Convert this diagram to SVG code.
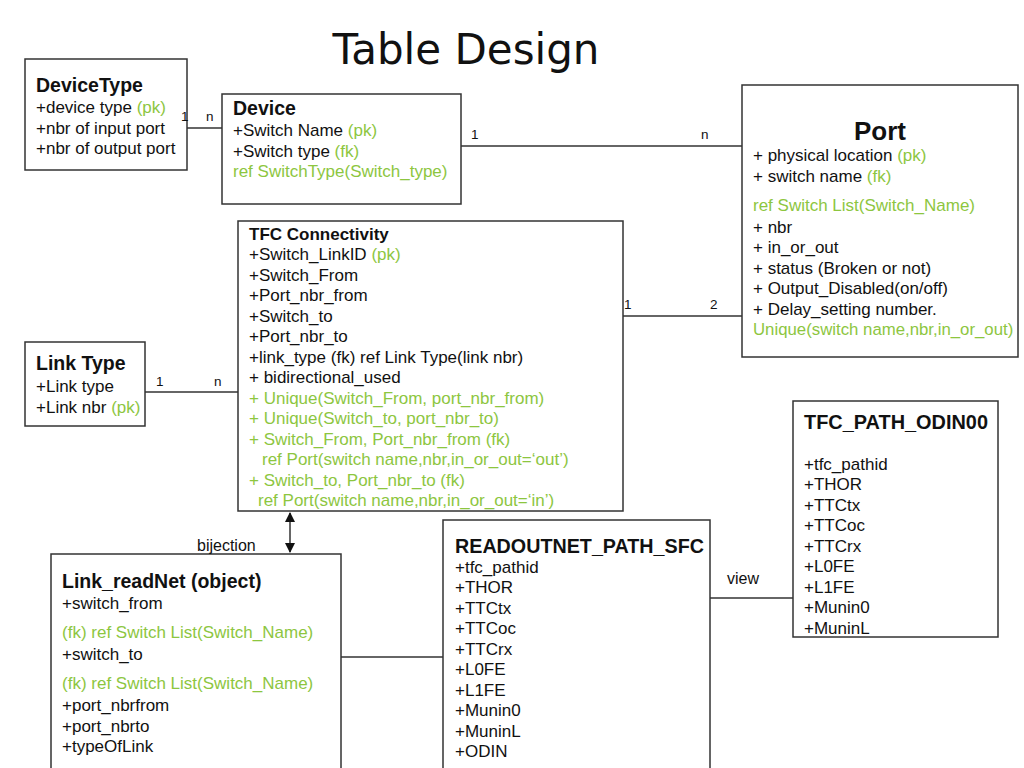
<svg xmlns="http://www.w3.org/2000/svg" width="1024" height="768" viewBox="0 0 1024 768">
<defs>
<style>
.box{fill:#fff;stroke:#333;stroke-width:1.5}
.t{font-family:"Liberation Sans",Arial,sans-serif;font-size:17px;fill:#111}
.h{font-family:"Liberation Sans",Arial,sans-serif;font-size:19.5px;font-weight:bold;fill:#111}
.hs{font-family:"Liberation Sans",Arial,sans-serif;font-size:17px;font-weight:bold;fill:#111}
.hc{font-family:"Liberation Sans",Arial,sans-serif;font-size:20px;font-weight:bold;fill:#111}
.g{fill:#8dc63f}
.lbl{font-family:"Liberation Sans",Arial,sans-serif;font-size:13.5px;fill:#111}
.c{stroke:#333;stroke-width:1.5;fill:none}
</style>
<marker id="ah" viewBox="0 0 10 10" refX="9" refY="5" markerWidth="7" markerHeight="7" orient="auto-start-reverse">
<path d="M0,0 L10,5 L0,10 z" fill="#111"/>
</marker>
</defs>
<rect width="1024" height="768" fill="#fff"/>
<text x="466" y="64" text-anchor="middle" font-family="'DejaVu Sans',sans-serif" font-size="42" fill="#111">Table Design</text>

<g id="DeviceType">
<rect class="box" x="25" y="59" width="162" height="111"/>
<text class="h" x="36" y="92">DeviceType</text>
<text class="t" x="36" y="113">+device type <tspan class="g">(pk)</tspan></text>
<text class="t" x="36" y="134">+nbr of input port</text>
<text class="t" x="36" y="154">+nbr of output port</text>
</g>

<g id="Device">
<rect class="box" x="222" y="94" width="239" height="110"/>
<text class="h" x="233" y="115">Device</text>
<text class="t" x="233" y="136">+Switch Name <tspan class="g">(pk)</tspan></text>
<text class="t" x="233" y="157">+Switch type <tspan class="g">(fk)</tspan></text>
<text class="t g" x="233" y="177">ref SwitchType(Switch_type)</text>
</g>

<g id="Port">
<rect class="box" x="742" y="85" width="276" height="272"/>
<text class="h" x="880" y="140" text-anchor="middle" style="font-size:26px">Port</text>
<text class="t" x="753" y="161">+ physical location <tspan class="g">(pk)</tspan></text>
<text class="t" x="753" y="182">+ switch name <tspan class="g">(fk)</tspan></text>
<text class="t g" x="753" y="211">ref Switch List(Switch_Name)</text>
<text class="t" x="753" y="233">+ nbr</text>
<text class="t" x="753" y="253">+ in_or_out</text>
<text class="t" x="753" y="274">+ status (Broken or not)</text>
<text class="t" x="753" y="294">+ Output_Disabled(on/off)</text>
<text class="t" x="753" y="315">+ Delay_setting number.</text>
<text class="t g" x="753" y="335" style="font-size:16.8px">Unique(switch name,nbr,in_or_out)</text>
</g>

<g id="TFCConnectivity">
<rect class="box" x="238" y="221" width="385" height="290"/>
<text class="hs" x="249" y="240">TFC Connectivity</text>
<text class="t" x="249" y="260">+Switch_LinkID <tspan class="g">(pk)</tspan></text>
<text class="t" x="249" y="281">+Switch_From</text>
<text class="t" x="249" y="301">+Port_nbr_from</text>
<text class="t" x="249" y="322">+Switch_to</text>
<text class="t" x="249" y="342">+Port_nbr_to</text>
<text class="t" x="249" y="363">+link_type (fk) ref Link Type(link nbr)</text>
<text class="t" x="249" y="383">+ bidirectional_used</text>
<text class="t g" x="249" y="404">+ Unique(Switch_From, port_nbr_from)</text>
<text class="t g" x="249" y="424">+ Unique(Switch_to, port_nbr_to)</text>
<text class="t g" x="249" y="445">+ Switch_From, Port_nbr_from (fk)</text>
<text class="t g" x="262" y="465">ref Port(switch name,nbr,in_or_out=‘out’)</text>
<text class="t g" x="249" y="486">+ Switch_to, Port_nbr_to (fk)</text>
<text class="t g" x="258" y="506">ref Port(switch name,nbr,in_or_out=‘in’)</text>
</g>

<g id="LinkType">
<rect class="box" x="25" y="342" width="120" height="84"/>
<text class="h" x="36" y="370">Link Type</text>
<text class="t" x="36" y="392">+Link type</text>
<text class="t" x="36" y="413">+Link nbr <tspan class="g">(pk)</tspan></text>
</g>

<g id="TFC_PATH_ODIN00">
<rect class="box" x="793" y="401" width="205" height="236"/>
<text class="hc" x="804" y="429" textLength="184" lengthAdjust="spacingAndGlyphs">TFC_PATH_ODIN00</text>
<text class="t" x="804" y="470">+tfc_pathid</text>
<text class="t" x="804" y="490">+THOR</text>
<text class="t" x="804" y="511">+TTCtx</text>
<text class="t" x="804" y="531">+TTCoc</text>
<text class="t" x="804" y="552">+TTCrx</text>
<text class="t" x="804" y="572">+L0FE</text>
<text class="t" x="804" y="593">+L1FE</text>
<text class="t" x="804" y="613">+Munin0</text>
<text class="t" x="804" y="634">+MuninL</text>
</g>

<g id="READOUTNET_PATH_SFC">
<rect class="box" x="443" y="520" width="267" height="250"/>
<text class="hc" x="455" y="553" textLength="249" lengthAdjust="spacingAndGlyphs">READOUTNET_PATH_SFC</text>
<text class="t" x="455" y="573">+tfc_pathid</text>
<text class="t" x="455" y="593">+THOR</text>
<text class="t" x="455" y="614">+TTCtx</text>
<text class="t" x="455" y="634">+TTCoc</text>
<text class="t" x="455" y="655">+TTCrx</text>
<text class="t" x="455" y="675">+L0FE</text>
<text class="t" x="455" y="696">+L1FE</text>
<text class="t" x="455" y="716">+Munin0</text>
<text class="t" x="455" y="737">+MuninL</text>
<text class="t" x="455" y="757">+ODIN</text>
</g>

<g id="Link_readNet">
<rect class="box" x="51" y="554" width="290" height="216"/>
<text class="h" x="62" y="588">Link_readNet (object)</text>
<text class="t" x="62" y="609">+switch_from</text>
<text class="t g" x="62" y="638">(fk) ref Switch List(Switch_Name)</text>
<text class="t" x="62" y="660">+switch_to</text>
<text class="t g" x="62" y="689">(fk) ref Switch List(Switch_Name)</text>
<text class="t" x="62" y="711">+port_nbrfrom</text>
<text class="t" x="62" y="732">+port_nbrto</text>
<text class="t" x="62" y="752">+typeOfLink</text>
</g>

<g id="connectors">
<line class="c" x1="187" y1="128" x2="222" y2="128"/>
<line class="c" x1="461" y1="146" x2="742" y2="146"/>
<line class="c" x1="623" y1="316" x2="742" y2="316"/>
<line class="c" x1="145" y1="392" x2="238" y2="392"/>
<line class="c" x1="341" y1="657" x2="443" y2="657"/>
<line class="c" x1="710" y1="598" x2="793" y2="598"/>
<line class="c" x1="290" y1="513" x2="290" y2="552" marker-start="url(#ah)" marker-end="url(#ah)"/>
<text class="lbl" x="181" y="121">1</text>
<text class="lbl" x="206" y="121">n</text>
<text class="lbl" x="471" y="139">1</text>
<text class="lbl" x="701" y="139">n</text>
<text class="lbl" x="624" y="309">1</text>
<text class="lbl" x="710" y="309">2</text>
<text class="lbl" x="156" y="386">1</text>
<text class="lbl" x="214" y="386">n</text>
<text class="t" x="197" y="551" style="font-size:16px">bijection</text>
<text class="t" x="727" y="584" style="font-size:16px">view</text>
</g>
</svg>
